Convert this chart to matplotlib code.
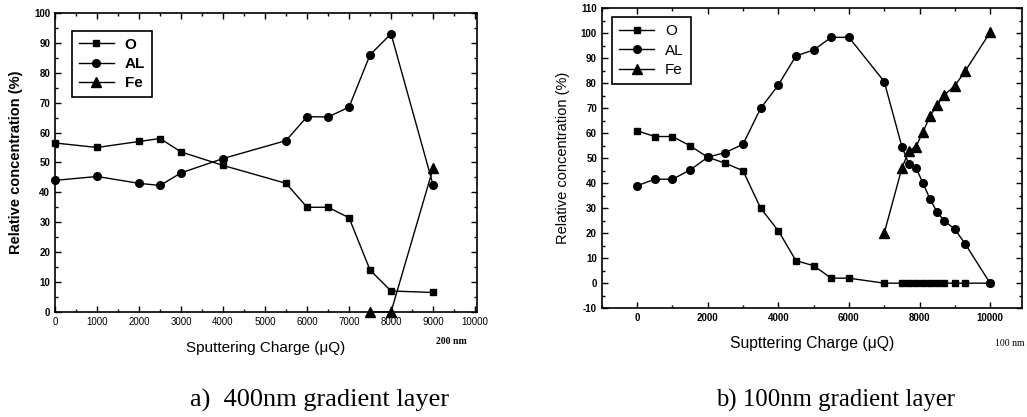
import numpy as np
import matplotlib.pyplot as plt
from matplotlib.ticker import MultipleLocator

# a) 400nm gradient layer
xa = [0, 1000, 2000, 2500, 3000, 4000, 5500, 6000, 6500, 7000, 7500, 8000, 9000]
Oa = [56.5, 55, 57, 58, 53.5, 49, 43, 35, 35, 31.5, 14, 7, 6.5]
ALa = [44, 45.3, 43, 42.3, 46.5, 51.3, 57.3, 65.3, 65.2, 68.5, 86, 93, 42.5]
xa_fe = [7500, 8000, 9000]
Fea = [0, 0, 48]

# b) 100nm gradient layer
xb = [0, 500, 1000, 1500, 2000, 2500, 3000, 3500, 4000, 4500, 5000, 5500, 6000,
      7000, 7500, 7700, 7900, 8100, 8300, 8500, 8700, 9000, 9300, 10000]
Ob = [61, 58.7, 58.7, 55, 50.4, 48, 45, 30, 21, 9, 7, 2, 2,
      0, 0, 0, 0, 0, 0, 0, 0, 0, 0, 0]
ALb = [39, 41.6, 41.6, 45.3, 50.4, 52.3, 55.6, 70, 79.3, 91, 93.3, 98.4, 98.4,
       80.7, 54.7, 47.6, 46.2, 40, 33.6, 28.4, 25, 21.6, 15.6, 0]
xb_fe = [7000, 7500, 7700, 7900, 8100, 8300, 8500, 8700, 9000, 9300, 10000]
Feb = [20, 46, 53, 54.7, 60.5, 67, 71.3, 75.3, 79, 85, 100.4]

plt.rcParams['font.family'] = 'Liberation Sans'
plt.rcParams['axes.unicode_minus'] = False

fig = plt.figure(figsize=(10.27, 4.17), dpi=100)
ax1 = fig.add_axes([0.0536, 0.252, 0.411, 0.717])
ax2 = fig.add_axes([0.586, 0.261, 0.409, 0.719])

kw = dict(color='black', linewidth=1, clip_on=False)
for ax, x, O, AL, xf, Fe, lw in [(ax1, xa, Oa, ALa, xa_fe, Fea, 'bold'),
                                 (ax2, xb, Ob, ALb, xb_fe, Feb, 'normal')]:
    ax.plot(x, O, marker='s', markersize=5, label='O', **kw)
    ax.plot(x, AL, marker='o', markersize=5.5, label='AL', **kw)
    ax.plot(xf, Fe, marker='^', markersize=6.5, label='Fe', **kw)
    ax.tick_params(which='both', direction='in', top=True, right=True, width=1)
    ax.tick_params(which='major', length=4)
    ax.tick_params(which='minor', length=2)
    for s in ax.spines.values():
        s.set_linewidth(1.2)
    leg = ax.legend(loc='upper left', handlelength=2.3, fancybox=False, edgecolor='black',
                    framealpha=1, prop={'size': 11, 'weight': lw}, borderpad=0.45,
                    labelspacing=0.35, handletextpad=0.7, borderaxespad=0,
                    bbox_to_anchor=(0.04, 0.94) if ax is ax1 else (0.025, 0.97))
    leg.get_frame().set_linewidth(1.2)

ax1.set_xlim(0, 10050)
ax1.set_ylim(0, 100)
ax1.xaxis.set_major_locator(MultipleLocator(1000))
ax1.xaxis.set_minor_locator(MultipleLocator(500))
ax1.yaxis.set_major_locator(MultipleLocator(10))
ax1.yaxis.set_minor_locator(MultipleLocator(5))
for t in ax1.get_xticklabels():
    t.set_fontsize(7)
for t in ax1.get_yticklabels():
    t.set_fontsize(7)
    t.set_fontweight('bold')
ax1.set_xlabel('Sputtering Charge (μQ)', fontsize=11, labelpad=10)
ax1.set_ylabel('Relative concentration (%)', fontsize=10.5, fontweight='bold', labelpad=8)

ax2.set_xlim(-1000, 10900)
ax2.set_ylim(-10, 110)
ax2.xaxis.set_major_locator(MultipleLocator(2000))
ax2.xaxis.set_minor_locator(MultipleLocator(1000))
ax2.yaxis.set_major_locator(MultipleLocator(10))
ax2.yaxis.set_minor_locator(MultipleLocator(5))
for t in ax2.get_xticklabels() + ax2.get_yticklabels():
    t.set_fontsize(7)
    t.set_fontweight('bold')
ax2.set_xlabel('Supttering Charge (μQ)', fontsize=11.3, labelpad=9)
ax2.set_ylabel('Relative concentration (%)', fontsize=10.5, labelpad=8)

fig.text(451 / 1027, 1 - 342 / 417, '200 nm', fontsize=7, fontweight='bold',
         family='Liberation Serif', ha='center', va='center')
fig.text(1010 / 1027, 1 - 343 / 417, '100 nm', fontsize=7,
         family='Liberation Serif', ha='center', va='center')
fig.text(320 / 1027, 1 - 400 / 417, 'a)  400nm gradient layer', fontsize=19,
         family='Liberation Serif', ha='center', va='center')
fig.text(836 / 1027, 1 - 400 / 417, 'b) 100nm gradient layer', fontsize=17.8,
         family='Liberation Serif', ha='center', va='center')

fig.savefig('out.png', dpi=100)
